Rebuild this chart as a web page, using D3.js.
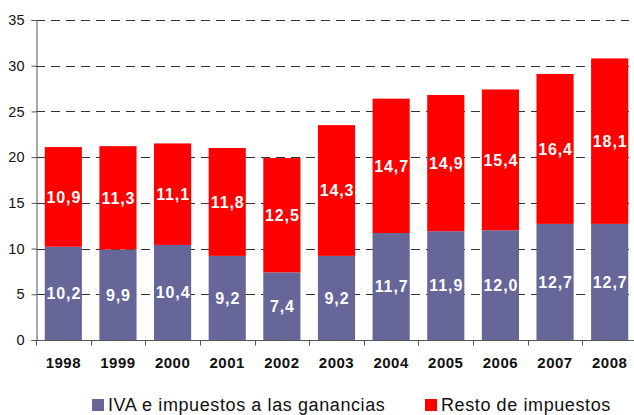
<!DOCTYPE html>
<html>
<head>
<meta charset="utf-8">
<script src="https://cdn.jsdelivr.net/npm/d3@7"></script>
<style>
  body { margin: 0; background: #fff; }
  text { font-family: "Liberation Sans", Arial, sans-serif; }
</style>
</head>
<body>
<div id="chart"></div>
<script>
// data
var years = ["1998", "1999", "2000", "2001", "2002", "2003", "2004", "2005", "2006", "2007", "2008"];
var iva = [10.2, 9.9, 10.4, 9.2, 7.4, 9.2, 11.7, 11.9, 12.0, 12.7, 12.7];
var resto = [10.9, 11.3, 11.1, 11.8, 12.5, 14.3, 14.7, 14.9, 15.4, 16.4, 18.1];
var seriesNames = ["IVA e impuestos a las ganancias", "Resto de impuestos"];
var colors = ["#666699", "#FF0000"];
var yTicks = [0, 5, 10, 15, 20, 25, 30, 35];

var W = 634, H = 415;
var margin = {top: 20, right: -3, bottom: 75, left: 36},
    width = W - margin.left - margin.right,
    height = H - margin.top - margin.bottom;

var svg = d3.select("#chart").append("svg")
    .attr("width", W)
    .attr("height", H);

var g = svg.append("g")
    .attr("transform", "translate(" + margin.left + "," + margin.top + ")");

var x = d3.scaleBand().domain(years).range([0, width]).paddingInner(0.32).paddingOuter(0.16);
var y = d3.scaleLinear().domain([0, 35]).range([height, 0]);

// dashed gridlines
g.selectAll(".grid")
    .data(yTicks.slice(1))
    .enter().append("line")
    .attr("x1", 0)
    .attr("x2", width - 8)
    .attr("y1", function(d) { return Math.round(y(d)) + 0.5; })
    .attr("y2", function(d) { return Math.round(y(d)) + 0.5; })
    .attr("stroke", "#333")
    .attr("stroke-dasharray", "9,6");

// stacked bars
var rows = years.map(function(yr, i) { return {year: yr, iva: iva[i], resto: resto[i]}; });
var stack = d3.stack().keys(["iva", "resto"])(rows);

var layers = g.selectAll(".layer")
    .data(stack)
    .enter().append("g")
    .attr("fill", function(d, i) { return colors[i]; });

layers.selectAll("rect")
    .data(function(d) { return d; })
    .enter().append("rect")
    .attr("x", function(d) { return x(d.data.year); })
    .attr("width", x.bandwidth())
    .attr("y", function(d) { return y(d[1]); })
    .attr("height", function(d) { return y(d[0]) - y(d[1]); });

// value labels
layers.selectAll("text")
    .data(function(d) { return d; })
    .enter().append("text")
    .attr("x", function(d) { return x(d.data.year) + x.bandwidth() / 2 + 0.5; })
    .attr("y", function(d) { return (y(d[0]) + y(d[1])) / 2; })
    .attr("dy", "0.36em")
    .attr("text-anchor", "middle")
    .attr("fill", "#fff")
    .style("font-size", "16px")
    .style("font-weight", "bold")
    .style("letter-spacing", "0.9px")
    .text(function(d) { return d3.format(".1f")(d[1] - d[0]).replace(".", ","); });

// y axis
var yAxis = g.append("g")
    .attr("transform", "translate(0.5,0)")
    .call(d3.axisLeft(y).tickValues(yTicks).tickSize(5).tickPadding(7));
yAxis.select(".domain").attr("stroke", "#555");
yAxis.selectAll(".tick line").attr("stroke", "#555");
yAxis.selectAll("text").style("font-size", "14.5px").attr("fill", "#111");

// x axis, ticks at category boundaries
var xAxis = g.append("g")
    .attr("transform", "translate(0," + (height + 0.5) + ")");
xAxis.append("line")
    .attr("x1", 0).attr("x2", width)
    .attr("stroke", "#555");
xAxis.selectAll(".bt")
    .data(years)
    .enter().append("line")
    .attr("x1", function(d) { return Math.round(x(d) - x.step() * x.paddingOuter()) + 0.5; })
    .attr("x2", function(d) { return Math.round(x(d) - x.step() * x.paddingOuter()) + 0.5; })
    .attr("y1", 0).attr("y2", 5)
    .attr("stroke", "#555");
xAxis.selectAll(".yl")
    .data(years)
    .enter().append("text")
    .attr("x", function(d) { return x(d) + x.bandwidth() / 2; })
    .attr("y", 27)
    .attr("text-anchor", "middle")
    .style("font-size", "15px")
    .style("font-weight", "bold")
    .style("letter-spacing", "0.5px")
    .attr("fill", "#111")
    .text(function(d) { return d; });

// legend
var legendX = [92, 425];
var legend = svg.selectAll(".legend")
    .data(seriesNames)
    .enter().append("g")
    .attr("transform", function(d, i) { return "translate(" + legendX[i] + ",399)"; });
legend.append("rect")
    .attr("width", 12).attr("height", 12)
    .attr("fill", function(d, i) { return colors[i]; });
legend.append("text")
    .attr("x", 16)
    .attr("y", 12)
    .style("font-size", "18px")
    .style("letter-spacing", "0.6px")
    .attr("fill", "#111")
    .text(function(d) { return d; });
</script>
</body>
</html>
